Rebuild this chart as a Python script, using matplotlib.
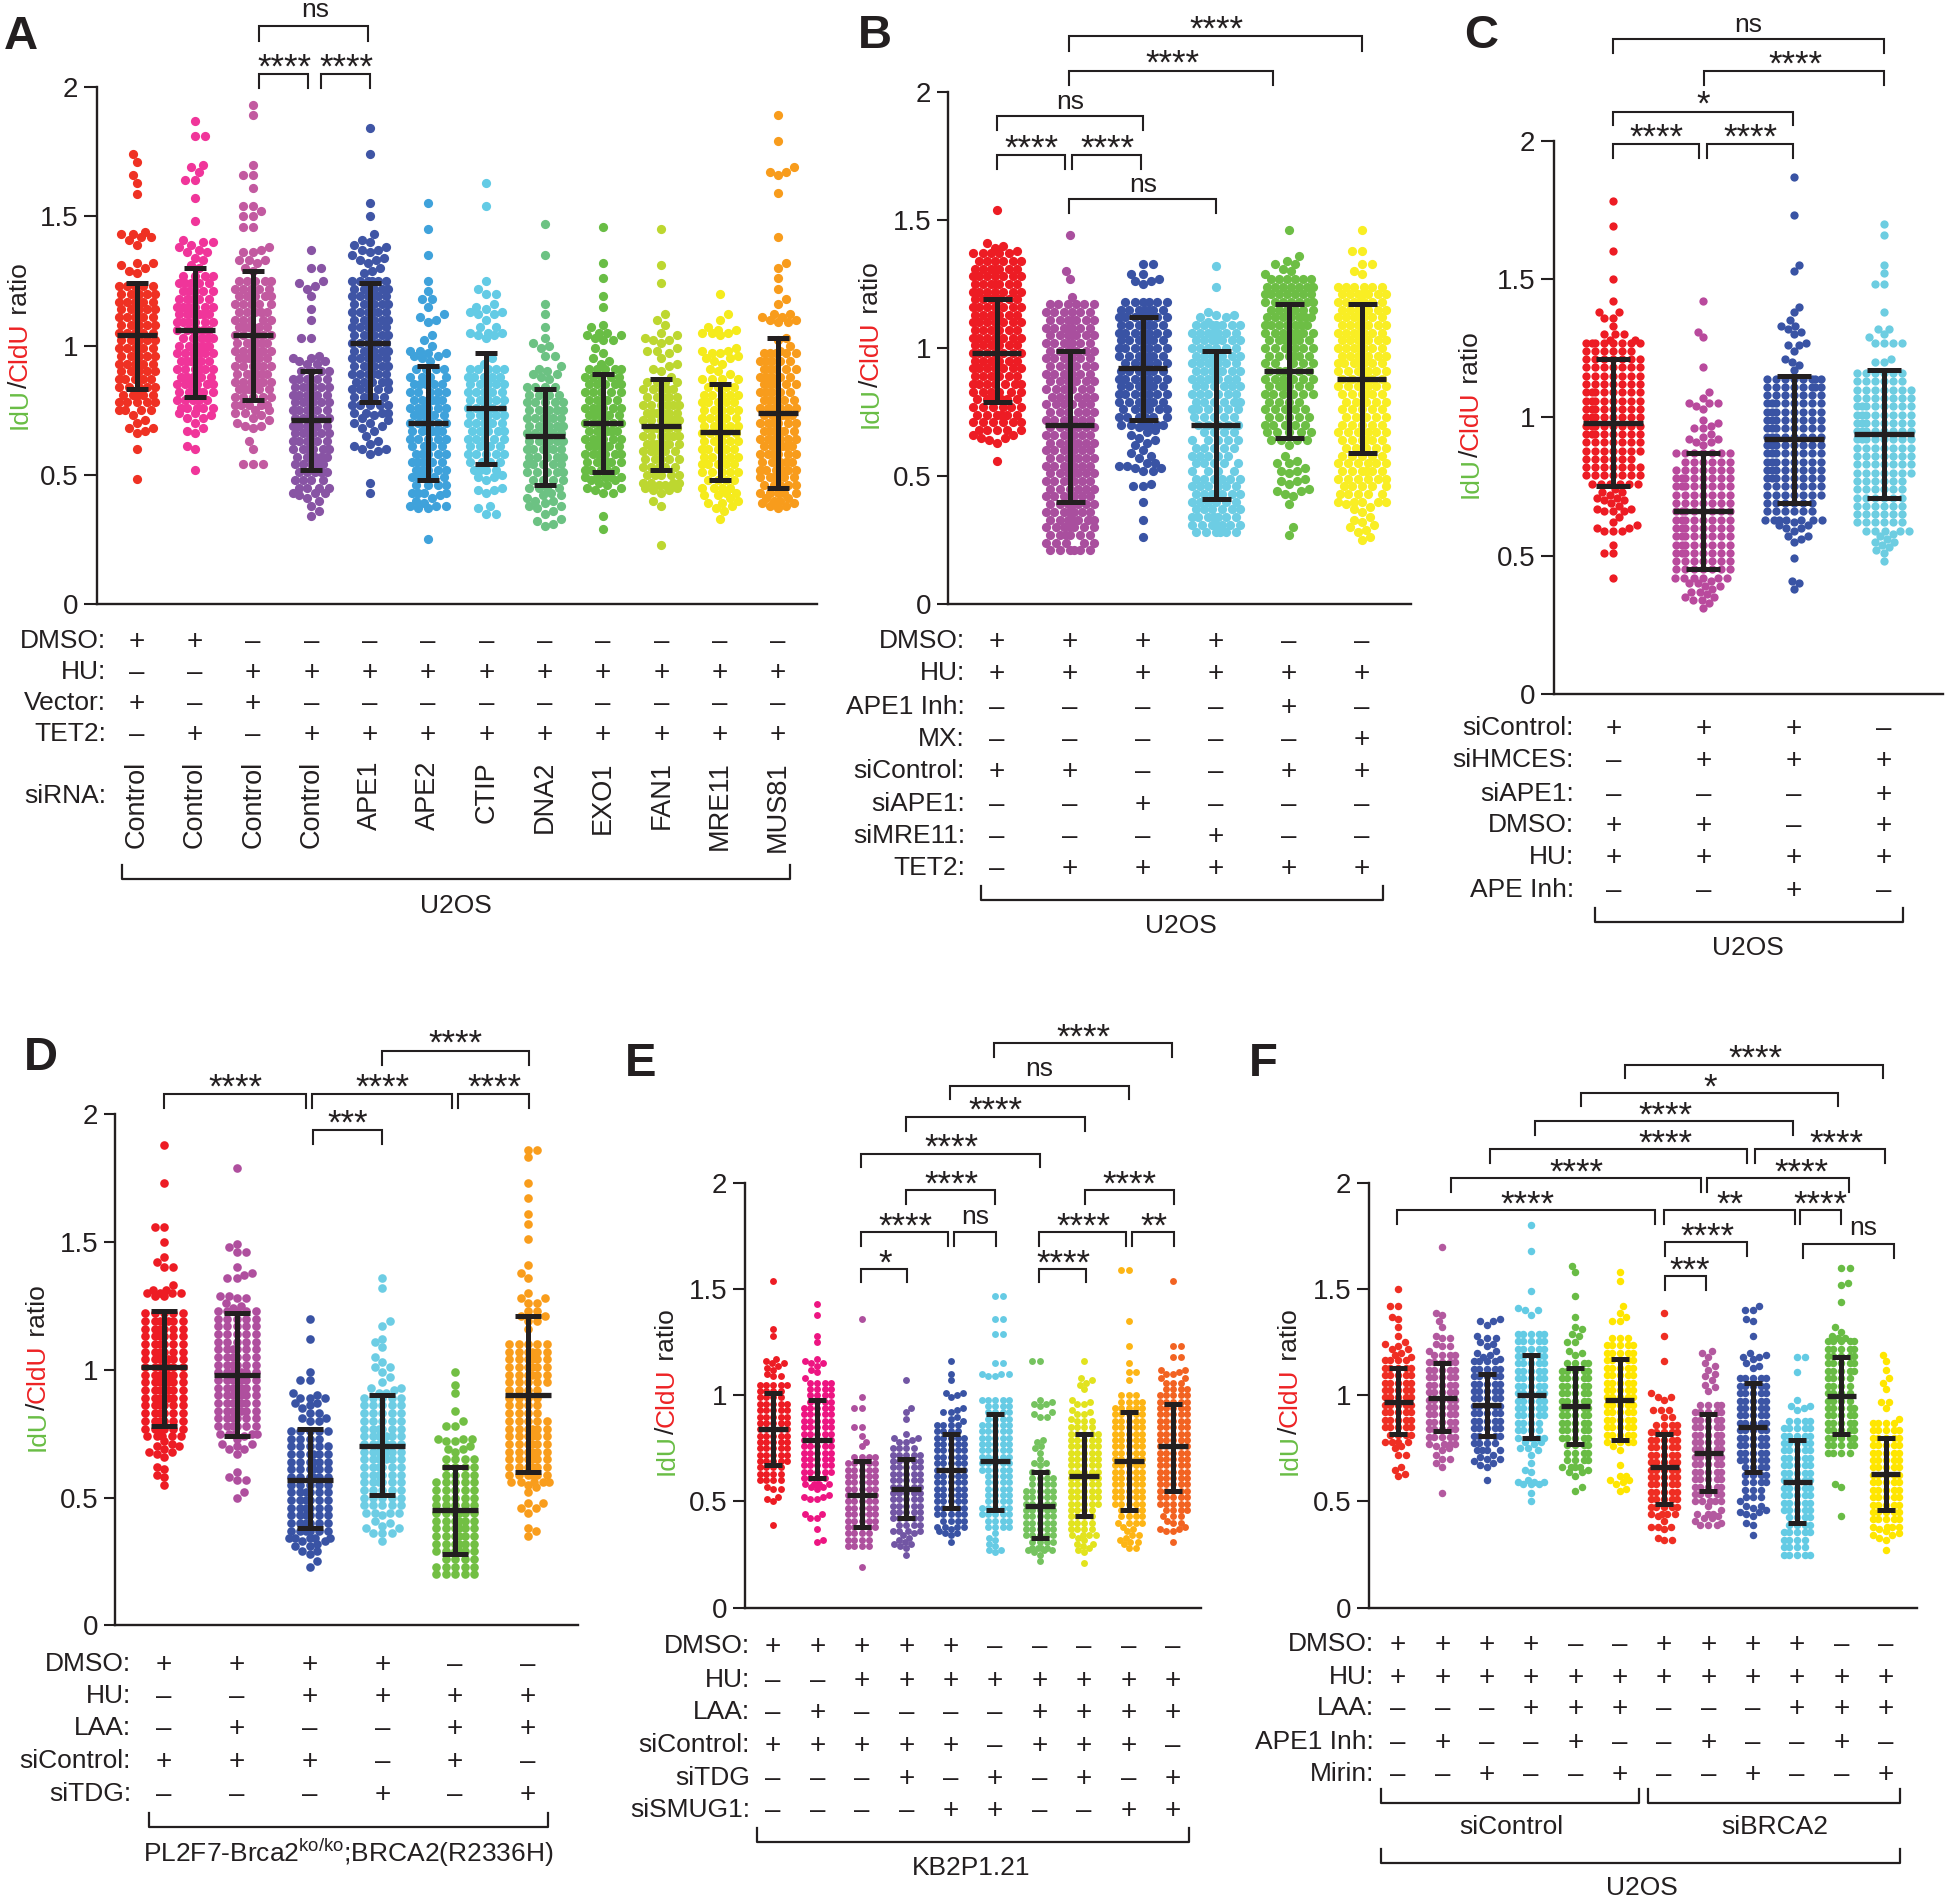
import matplotlib
matplotlib.use('Agg')
import matplotlib.pyplot as plt
import numpy as np

plt.rcParams['font.family'] = ['Liberation Sans', 'DejaVu Sans']
plt.rcParams['mathtext.fontset'] = 'custom'
plt.rcParams['mathtext.rm'] = 'Liberation Sans'
plt.rcParams['mathtext.default'] = 'regular'

DARK = '#231F20'

# --- Panel A ---
A_colors = ['#EF3123', '#F0359A', '#C25AA0', '#8854A4', '#3F55A5', '#3FA2DB',
            '#63CBE5', '#6CC283', '#69BD45', '#BDD730', '#F5EB1C', '#F89C1C']
A_mean = [1.04, 1.06, 1.04, 0.71, 1.01, 0.70, 0.76, 0.65, 0.70, 0.69, 0.665, 0.74]
A_high = [1.24, 1.30, 1.29, 0.90, 1.24, 0.92, 0.97, 0.83, 0.89, 0.87, 0.85, 1.03]
A_low = [0.83, 0.80, 0.79, 0.52, 0.78, 0.48, 0.54, 0.46, 0.51, 0.52, 0.48, 0.45]
A_step = 0.03
A_start = [.75, .76, .77, .45, .74, .43, .52, .45, .49, .47, .45, .43]
A_rows = [
    [4,5,5,5,6,6,6,6,6,6,6,6,6,6,6,6,5],
    [5,5,6,6,6,6,6,6,5,5,6,6,6,6,5,5,5,4],
    [5,5,6,6,6,6,6,6,6,6,6,5,5,5,6,5,5],
    [4,4,5,5,6,6,6,6,6,6,6,6,6,6,5,4],
    [4,5,5,5,5,6,6,6,6,6,6,6,6,6,6,6,6,6],
    [4,4,5,5,5,5,4,5,6,6,6,6,6,5,5,4,4],
    [4,4,5,5,5,6,6,6,6,6,6,5,5,5],
    [4,4,5,5,5,6,6,6,6,6,5,5,4,4],
    [5,5,6,6,6,6,6,6,6,6,5,5,5,5,5],
    [4,5,5,5,6,6,6,6,6,6,6,5,5,4],
    [4,4,5,5,5,6,6,6,6,6,5,5,5,4,4],
    [5,5,6,6,6,6,6,6,6,6,6,6,5,5,5,5,5,5,5],
]
A_sparse = [
    [1.74,1.71,1.66,1.63,1.585,1.44,1.43,1.43,1.42,1.41,1.42,1.39,1.32,1.32,1.31,1.28,1.29,1.30,.60,.485,.66,.67,.68,.68,.70,.71,.73],
    [1.87,1.81,1.81,1.70,1.69,1.67,1.64,1.64,1.57,1.48,1.41,1.40,1.40,1.39,1.38,1.37,1.36,1.36,1.34,1.33,1.30,1.31,.52,.60,.61,.66,.67,.68,.70,.72,.72,.73,.74,.74],
    [1.93,1.89,1.70,1.66,1.66,1.61,1.54,1.54,1.52,1.50,1.50,1.46,1.46,1.38,1.37,1.36,1.36,1.33,1.33,1.33,1.32,1.30,1.29,.54,.54,.54,.60,.63,.68,.69,.69,.70,.71,.72,.73,.74,.74,.75,.75],
    [1.37,1.30,1.30,1.25,1.24,1.23,1.22,1.19,1.14,1.10,1.03,1.03,.95,.95,.94,.94,.96,.93,.93,.34,.36,.38,.40,.41,.42,.43,.43,.43],
    [1.84,1.74,1.55,1.50,1.43,1.41,1.40,1.39,1.38,1.37,1.37,1.36,1.35,1.34,1.33,1.33,1.32,1.30,1.29,1.28,.43,.47,.58,.59,.60,.60,.61,.62,.63,.65,.67,.68,.69,.70,.70,.71,.72,.73],
    [1.55,1.45,1.35,1.25,1.21,1.18,1.18,1.15,1.12,1.11,1.10,1.09,1.04,1.02,1.00,.98,.98,.97,.97,.96,.96,.95,.94,.25,.37,.37,.38,.38,.38,.39,.40,.41,.42],
    [1.63,1.54,1.25,1.22,1.20,1.20,1.16,1.15,1.14,1.13,1.13,1.12,1.12,1.10,1.05,1.05,1.05,1.04,1.04,1.03,1.07,1.07,.95,.93,.35,.35,.37,.38,.43,.44,.44,.45,.48,.49,.49,.50],
    [1.47,1.35,1.16,1.12,1.07,1.03,1.01,1.00,.99,.96,.96,.92,.91,.90,.89,.89,.88,.87,.30,.31,.32,.33,.35,.36,.37,.38,.38,.39,.40,.40,.41,.42,.42,.43],
    [1.46,1.32,1.26,1.19,1.15,1.08,1.07,1.05,1.05,1.04,1.04,1.03,1.02,1.02,.99,.97,.95,.94,.93,.29,.34,.43,.43,.44,.45,.45,.46,.47,.48,.48],
    [1.45,1.31,1.24,1.12,1.10,1.08,1.05,1.04,1.03,1.02,1.02,1.01,.99,.98,.98,.97,.95,.93,.92,.91,.90,.88,.23,.38,.40,.43,.44,.44,.45,.45,.46,.46],
    [1.20,1.12,1.10,1.07,1.06,1.06,1.05,1.05,1.05,1.04,.99,.98,.98,.97,.97,.96,.95,.95,.94,.93,.91,.90,.89,.33,.36,.37,.38,.39,.39,.40,.41,.42,.42,.43,.43],
    [1.89,1.79,1.69,1.67,1.66,1.67,1.59,1.42,1.32,1.30,1.26,1.22,1.18,1.16,1.12,1.12,1.11,1.11,1.10,1.10,1.09,1.09,1.03,1.02,1.00,.98,.37,.38,.38,.39,.39,.40,.40,.41,.41],
]
A_labels = ['DMSO:', 'HU:', 'Vector:', 'TET2:']
A_marks = ['++----------', '--++++++++++', '+-+---------', '-+-+++++++++']
A_sirna = ['Control', 'Control', 'Control', 'Control', 'APE1', 'APE2', 'CTIP', 'DNA2', 'EXO1', 'FAN1', 'MRE11', 'MUS81']

# --- Panel B ---
B_colors = ['#ED1C24', '#A94F9E', '#3953A4', '#6DCDE4', '#6DBE45', '#F9EE24']
B_mean = [.98, .70, .92, .70, .91, .88]
B_high = [1.19, .99, 1.12, .99, 1.17, 1.17]
B_low = [.79, .40, .72, .41, .65, .59]
B_step = 0.03
B_start = [.68, .21, .70, .28, .64, .40]
B_rows = [
    [5,6,6,6,7,6,7,7,7,7,7,7,7,7,7,7,7,7,7,7,7,7,6,5],
    [6,5,6,7,7,7,7,6,6,7,7,7,7,7,7,7,7,7,6,6,6,7,7,7,7,7,7,7,7,7,7,6,6],
    [5,6,6,7,7,7,7,7,6,7,7,7,7,7,7,7,6],
    [6,7,7,6,6,7,6,6,4,5,5,5,5,4,5,5,6,6,6,6,7,7,7,6,6,7,7,7],
    [4,5,5,5,5,4,6,6,6,6,5,6,6,7,7,7,7,6,7,7,7,6],
    [5,5,5,6,6,6,5,5,6,6,5,5,5,5,6,6,6,7,7,7,7,7,7,7,7,7,7,7,6],
]
B_sparse = [
    [1.54,.56,1.41,1.40,1.39,1.38,.63,.64,.65,.66,.65,.66],
    [1.44,1.30,1.27,1.20],
    [1.33,1.33,1.29,1.29,1.27,1.26,1.26,1.25,.26,.33,.40,.46,.46,.47,.52,.52,.53,.53,.54,.54,.55,.55,.57,.58,.59,.60,.62,.63,.64,.65,.66,.67,.68,.69,.70],
    [1.32,1.24,1.14,1.13,1.12,1.13,1.12,1.10],
    [1.46,1.36,1.34,1.33,1.33,1.31,1.30,1.29,.27,.30,.39,.42,.43,.44,.44,.45,.47,.48,.48,.49,.51,.52,.52,.53,.55,.55,.56,.58,.62],
    [1.46,1.38,1.38,1.33,1.33,1.30,1.29,.25,.26,.28,.29,.30,.31,.32,.33,.34,.36,.37,.38,.39],
]
B_labels = ['DMSO:', 'HU:', 'APE1 Inh:', 'MX:', 'siControl:', 'siAPE1:', 'siMRE11:', 'TET2:']
B_marks = ['++++--', '++++++', '----+-', '-----+', '++--++', '--+---', '---+--', '-+++++']

# --- Panel C ---
C_colors = ['#ED1C24', '#B94A9D', '#3953A4', '#6DCDE1']
C_mean = [.98, .66, .92, .94]
C_high = [1.21, .87, 1.15, 1.17]
C_low = [.75, .45, .69, .71]
C_step = 0.03
C_start = [.76, .42, .63, .59]
C_rows = [
    [6,7,7,6,7,7,8,8,8,8,8,8,7,7,7,7,6,8],
    [6,7,7,8,8,8,8,8,8,7,7,8,8,7,6,7],
    [7,6,6,7,7,8,8,8,8,8,8,8,8,8,8,7,8,8],
    [5,6,6,6,6,6,6,7,7,7,7,8,8,8,8,8,7,7,6,6],
]
C_sparse = [
    [1.78,1.69,1.60,1.50,1.42,1.38,1.38,1.36,1.36,1.33,1.30,1.30,1.30,1.28,1.28,.42,.51,.51,.54,.59,.59,.59,.60,.60,.61,.62,.64,.66,.66,.66,.67,.67,.68,.69,.70,.70,.71,.71,.72,.73,.73,.74],
    [1.42,1.31,1.29,1.18,1.09,1.07,1.05,1.05,1.04,1.03,1.05,.99,.98,.97,.96,.96,.94,.93,.92,.92,.91,.91,.90,.31,.33,.34,.34,.35,.35,.36,.37,.37,.38,.39,.39,.40,.40,.41],
    [1.87,1.73,1.55,1.53,1.40,1.38,1.35,1.33,1.33,1.32,1.31,1.30,1.27,1.26,1.26,1.24,1.21,1.20,1.19,1.17,.38,.41,.40,.49,.55,.56,.57,.57,.59,.60,.60,.61,.61,.62],
    [1.70,1.66,1.55,1.52,1.48,1.48,1.38,1.32,1.32,1.30,1.29,1.27,1.27,1.27,1.27,1.21,1.20,1.20,.48,.51,.52,.53,.54,.55,.55,.56,.57,.58],
]
C_labels = ['siControl:', 'siHMCES:', 'siAPE1:', 'DMSO:', 'HU:', 'APE Inh:']
C_marks = ['+++-', '-+++', '---+', '++-+', '++++', '--+-']

# --- Panel D ---
D_colors = ['#ED1C24', '#AF4F9E', '#3953A4', '#6DCDE4', '#72BF44', '#F99D1C']
D_mean = [1.01, .98, .57, .70, .45, .90]
D_high = [1.23, 1.22, .77, .90, .62, 1.21]
D_low = [.78, .74, .38, .51, .28, .60]
D_step = 0.03
D_start = [.74, .75, .34, .44, .20, .56]
D_rows = [
    [5,6,6,6,6,7,7,7,7,7,7,6,6,6,6,7,5],
    [5,6,6,7,7,7,7,7,7,6,6,6,5,5,5,5,5],
    [5,6,6,6,6,6,6,5,6,6,6,6,5,4,5],
    [4,5,5,5,6,6,6,7,7,7,7,6,5,5,5,5],
    [5,5,4,6,6,6,6,6,6,5,5,5,5,4,4,4],
    [5,6,6,6,6,6,6,6,5,4,4,4,4,5,6,6,6,6,5],
]
D_sparse = [
    [1.88,1.73,1.56,1.56,1.50,1.44,1.42,1.40,1.40,1.33,1.31,1.31,1.30,1.30,1.30,1.29,1.29,1.30,.55,.58,.59,.61,.62,.66,.67,.68,.68,.69,.70,.70,.71,.72],
    [1.79,1.49,1.48,1.46,1.46,1.40,1.38,1.37,1.36,1.36,1.29,1.29,1.28,1.28,1.26,1.25,1.24,.50,.52,.57,.57,.58,.60,.67,.69,.69,.70,.71,.71,.73,.74],
    [1.20,1.12,.99,.96,.96,.91,.90,.89,.89,.89,.87,.87,.86,.85,.83,.83,.81,.81,.80,.80,.23,.25,.28,.29,.29,.31,.31,.32,.33,.33],
    [1.36,1.32,1.19,1.17,1.12,1.11,1.09,1.05,1.03,1.01,1.01,.99,.97,.95,.93,.93,.92,.91,.91,.33,.36,.36,.36,.38,.38,.39,.40,.41,.43],
    [.99,.94,.91,.84,.80,.78,.78,.73,.73,.73,.72,.72,.70,.69,.69,.68],
    [1.86,1.86,1.83,1.73,1.67,1.61,1.57,1.51,1.41,1.38,1.36,1.30,1.28,1.28,1.26,1.26,1.23,1.23,1.21,1.21,1.19,1.19,1.16,.35,.37,.38,.44,.46,.46,.48,.48,.52,.54,.55],
]
D_labels = ['DMSO:', 'HU:', 'LAA:', 'siControl:', 'siTDG:']
D_marks = ['++++--', '--++++', '-+--++', '+++-+-', '---+-+']

# --- Panel E ---
E_colors = ['#ED1C24', '#ED1582', '#AE509E', '#7256A4', '#3953A4', '#66CBE4', '#75C35F', '#E2E31E', '#FDB515', '#F26322']
E_mean = [.84, .79, .53, .56, .65, .69, .48, .62, .69, .76]
E_high = [1.01, .98, .69, .70, .82, .91, .64, .82, .92, .96]
E_low = [.67, .61, .38, .42, .47, .46, .33, .43, .46, .55]
E_step = 0.03
E_start = [.60, .58, .29, .36, .38, .38, .28, .34, .40, .46]
E_rows = [
    [4,4,4,5,5,5,5,5,5,5,5,5,5,4,4,4],
    [4,4,5,5,5,5,5,5,5,5,5,5,5,4,4,4,4],
    [4,4,4,5,5,5,5,5,5,5,5,5,5,5,4],
    [4,4,5,5,5,5,5,5,5,5,5,5,5,4],
    [4,4,5,5,5,5,5,5,5,5,5,5,5,5,5,4,4],
    [4,4,5,5,4,4,4,4,4,5,5,5,5,5,5,5,5,4,4,4,5],
    [4,4,5,5,5,5,5,5,5,5,4,4,3],
    [4,4,4,4,4,5,5,5,5,5,5,5,5,5,5,5,5,4,3],
    [4,4,4,5,5,5,5,5,5,5,5,5,5,5,5,5,5,5,5,4,3],
    [4,5,5,5,5,5,5,5,5,5,5,5,5,5,5,5,5,5,5,4,3],
]
E_sparse = [
    [1.54,1.31,1.28,1.17,1.16,1.15,1.15,1.14,1.13,1.12,1.10,1.09,1.09,1.05,.39,.50,.51,.52,.56,.56,.57],
    [1.43,1.38,1.28,1.25,1.17,1.16,1.15,1.15,1.14,1.12,1.11,1.08,.31,.32,.37,.42,.42,.44,.44,.51,.51,.52,.52,.53,.56,.57,.57],
    [1.36,.99,.94,.94,.85,.85,.81,.78,.76,.19],
    [1.07,.94,.92,.89,.82,.80,.80,.79,.78,.78,.25,.28,.29,.30,.30,.31,.32,.33,.34,.35],
    [1.16,1.10,1.07,1.01,1.01,1.00,.99,.94,.93,.92,.92,.90,.89,.88,.31,.34,.35,.35,.36,.37],
    [1.47,1.47,1.36,1.36,1.29,1.29,1.15,1.15,1.10,1.10,1.10,1.09,1.09,.26,.27,.27,.29,.30,.32,.33,.35],
    [1.16,1.16,.98,.97,.96,.96,.95,.92,.91,.90,.90,.79,.78,.76,.75,.73,.70,.68,.68,.67,.22,.25,.26,.27,.27,.27],
    [1.16,1.08,1.07,1.06,1.05,1.03,.98,.97,.96,.96,.93,.92,.91,.91,.89,.21,.26,.27,.28,.29,.30,.30,.32,.33],
    [1.59,1.59,1.35,1.23,1.15,1.11,1.11,1.07,.28,.28,.30,.31,.31,.32,.33,.34,.34,.36,.37,.38],
    [1.54,1.23,1.23,1.18,1.18,1.12,1.12,1.11,1.10,1.10,1.08,1.08,.31,.36,.36,.37,.37,.38,.40,.40,.41,.43,.43,.43],
]
E_labels = ['DMSO:', 'HU:', 'LAA:', 'siControl:', 'siTDG', 'siSMUG1:']
E_marks = ['+++++-----', '--++++++++', '-+----++++', '+++++-+++-', '---+-+-+-+', '----++--++']

# --- Panel F ---
F_colors = ['#EF2E23', '#B3599F', '#3C55A5', '#63CBE4', '#69BC45', '#FFE600'] * 2
F_mean = [.97, .985, .955, 1.0, .95, .98, .66, .73, .85, .59, .995, .63]
F_high = [1.13, 1.15, 1.10, 1.19, 1.13, 1.17, .82, .91, 1.06, .79, 1.18, .80]
F_low = [.82, .83, .81, .80, .77, .79, .49, .55, .64, .40, .82, .46]
F_step = 0.035
F_start = [.78, .77, .74, .80, .66, .78, .44, .50, .52, .25, .73, .38]
F_rows = [
    [4,4,5,5,5,5,5,5,5,5,5,4],
    [4,5,5,5,5,5,5,5,5,5,5,5,4],
    [4,4,5,5,5,5,5,5,5,5,5,5,4],
    [4,4,4,5,5,5,5,5,5,5,5,5,5,5,5],
    [4,4,4,4,5,5,5,5,5,5,5,5,5,5,4],
    [4,5,5,5,5,5,5,5,5,5,5,5,5,5,3],
    [4,5,5,5,5,5,5,5,5,5,5,5,4],
    [5,5,5,5,5,5,5,5,5,5,5,5,5,4],
    [3,3,4,4,4,5,5,5,5,5,5,5,5,5,5,5,5],
    [5,4,4,5,4,4,5,5,5,5,5,5,5,5,5,5,5,5,4],
    [4,5,5,5,5,5,5,4,4,4,4,5,5,5,5,5],
    [4,5,5,5,5,5,5,5,5,5,5,5,5,5,4],
]
F_sparse = [
    [1.50,1.42,1.42,1.37,1.36,1.32,1.28,1.25,1.24,1.23,1.22,1.22,1.20,1.19,1.18,.62,.63,.65,.66,.72,.72,.75,.76],
    [1.70,1.39,1.38,1.35,1.32,1.28,1.27,1.27,1.24,1.23,1.23,1.21,.54,.66,.68,.70,.70,.72,.74,.75,.76],
    [1.36,1.35,1.35,1.33,1.28,1.27,1.27,1.25,1.24,1.23,1.21,1.20,1.19,1.18,1.17,.60,.66,.67,.68,.69,.70,.70,.71,.72],
    [1.80,1.68,1.49,1.41,1.40,1.40,1.38,.50,.54,.58,.58,.58,.59,.59,.59,.60,.64,.65,.68,.72,.74,.75,.75,.77,.78,.78],
    [1.61,1.58,1.47,1.37,1.32,1.31,1.29,1.28,1.25,1.25,1.21,1.20,1.19,.55,.57,.62,.64,.64,.65],
    [1.58,1.54,1.42,1.39,1.37,1.35,1.35,.55,.56,.58,.59,.60,.60,.62,.62,.67,.74,.76],
    [1.39,1.28,1.16,1.01,.99,.99,.98,.93,.93,.93,.90,.90,.32,.32,.33,.37,.38,.38,.38,.41,.43],
    [1.21,1.20,1.18,1.15,1.14,1.12,1.10,1.09,1.07,1.05,1.04,1.02,.39,.39,.39,.40,.41,.42,.42,.43,.44,.44,.44,.46,.48],
    [1.42,1.40,1.40,1.35,1.36,1.28,1.20,1.19,1.18,1.18,1.17,1.15,1.14,1.13,.34,.39,.40,.43,.44,.45,.45,.46,.47,.48,.48,.50],
    [1.18,1.18,1.11,.98,.95,.95,.94,.93],
    [1.60,1.60,1.53,1.52,1.44,1.32,1.30,1.28,1.27,1.27,.57,.58,.43],
    [1.19,1.16,1.12,1.08,1.06,1.03,.97,.97,.94,.89,.27,.32,.33,.34,.34,.35,.36,.37],
]
F_labels = ['DMSO:', 'HU:', 'LAA:', 'APE1 Inh:', 'Mirin:']
F_marks = ['++++--++++--', '++++++++++++', '---+++---+++', '-+--+--+--+-', '--+--+--+--+']

fig = plt.figure(figsize=(19.5, 19.04), dpi=100)
W, H = 1950.0, 1904.0

# overlay in pixel coords for brackets and the table text
ov = fig.add_axes([0, 0, 1, 1], zorder=5)
ov.set_xlim(0, W)
ov.set_ylim(H, 0)
ov.axis('off')
ov.patch.set_alpha(0)


def swarm(vals, dot, per_unit, half):
    # simple beeswarm: returns x offsets in pixels
    vals = np.sort(vals)
    ys = vals * per_unit
    cand = np.arange(0, half + 0.01, dot / 4)
    xs = []
    for k, y in enumerate(ys):
        sign = 1 if k % 2 else -1
        order = np.ravel(np.column_stack([sign * cand, -sign * cand]))
        if len(xs) == 0:
            xs.append(0.0)
            continue
        px = np.array(xs)
        py = ys[:len(xs)]
        near = np.abs(py - y) < dot * 1.5
        px, py = px[near], py[near]
        best, best_d = 0.0, -1
        for c in order:
            d = np.min(np.hypot(px - c, py - y)) if len(px) else 99
            if d >= dot * 1.02:
                best = c
                break
            if d > best_d:
                best, best_d = c, d
        xs.append(best)
    return vals, np.array(xs)


def panel(x_px, y2, y0, right, spine, left_tick, colors, mean, high, low, start, rows, step, sparse,
          dot, half, mean_w, cap_w):
    ax = fig.add_axes([spine / W, 1 - y0 / H, (right - spine) / W, (y0 - y2) / H])
    ax.set_xlim(spine, right)
    ax.set_ylim(0, 2)
    per_unit = (y0 - y2) / 2
    for i, x0 in enumerate(x_px):
        vals = list(sparse[i])
        for r, n in enumerate(rows[i]):
            vals += [start[i] + r * step] * n
        v, off = swarm(np.array(vals), dot, per_unit, half)
        # drawn a bit larger than the layout spacing so the dense part closes up
        ax.scatter(x0 + off, v, s=(dot * 1.15 * 0.72) ** 2, color=colors[i], linewidths=0, zorder=2, clip_on=False)
        ax.errorbar(x0, mean[i], yerr=[[mean[i] - low[i]], [high[i] - mean[i]]], color=DARK, elinewidth=3.6,
                    capsize=cap_w * 0.72, capthick=3.6, zorder=3)
        ax.hlines(mean[i], x0 - mean_w, x0 + mean_w, color=DARK, linewidth=3.8, zorder=3)
    for s in ['top', 'right']:
        ax.spines[s].set_visible(False)
    for s in ['left', 'bottom']:
        ax.spines[s].set_linewidth(1.7)
        ax.spines[s].set_color(DARK)
    ax.set_xticks([])
    ax.set_yticks([0, 0.5, 1, 1.5, 2])
    ax.set_yticklabels(['0', '0.5', '1', '1.5', '2'], fontsize=20, color=DARK)
    ax.tick_params(axis='y', length=(spine - left_tick) * 0.72, width=1.5, color=DARK, pad=4)
    return ax


def ylabel(x, y_bottom):
    renderer = fig.canvas.get_renderer()
    y = y_bottom
    for s, c in [('IdU', '#69BD45'), ('/', DARK), ('CldU', '#ED2224'), (' ratio', DARK)]:
        t = ov.text(x, y, s.replace(' ', '\u00a0'), color=c, fontsize=19, rotation=90, ha='center', va='bottom',
                    rotation_mode='default')
        y -= t.get_window_extent(renderer).height


def table(labels, marks, x_px, rows_y, label_x):
    for lab, row, y in zip(labels, marks, rows_y):
        ov.text(label_x, y + 8, lab, ha='right', va='baseline', fontsize=19, color=DARK)
        for m, x in zip(row, x_px):
            ov.text(x, y + 9, '+' if m == '+' else '\u2013', ha='center', va='baseline', fontsize=20, color=DARK)


def bracket(x1, x2, top, bot, label=None, lx=None, ly=None, right_bot=None):
    rb = bot if right_bot is None else right_bot
    ov.plot([x1, x1, x2, x2], [bot, top, top, rb], color=DARK, lw=1.5, solid_joinstyle='miter', clip_on=False)
    if label is None:
        return
    if label == 'ns':
        ov.text(lx, ly + 7, label, ha='center', va='baseline', fontsize=19, color=DARK)
    else:
        ov.text(lx, ly + 17, label, ha='center', va='baseline', fontsize=25, color=DARK)


def under(x1, x2, top, bot, label, lx, ly, **kw):
    ov.plot([x1, x1, x2, x2], [top, bot, bot, top], color=DARK, lw=1.6, clip_on=False)
    ov.text(lx, ly, label, ha='center', va='center', fontsize=19, color=DARK, **kw)


def letter(s, x, y):
    ov.text(x, y, s, ha='center', va='center', fontsize=34, fontweight='bold', color=DARK)


S4 = '****'

# --- A ---
xA = np.linspace(136.5, 778, 12)
panel(xA, 87, 604, 817, 97, 84, A_colors, A_mean, A_high, A_low, A_start, A_rows, A_step, A_sparse, 8, 19, 20, 11)
table(A_labels, A_marks, xA, [640, 671, 702, 733], 106)
ov.text(106, 796, 'siRNA:', ha='right', va='center', fontsize=19, color=DARK)
for x, s in zip(xA, A_sirna):
    ov.text(x, 761, s, rotation=90, ha='center', va='top', fontsize=19.5, color=DARK)
under(122, 790, 865, 879, 'U2OS', 456, 906)
ylabel(20, 429)
letter('A', 21, 37)
bracket(259, 368, 26, 41, 'ns', 315, 10)
bracket(259, 308, 74, 88, S4, 284, 61)
bracket(321, 369.5, 74, 88, S4, 346, 61)

# --- B ---
xB = np.linspace(996.6, 1361.7, 6)
panel(xB, 92, 604, 1410.6, 948, 937, B_colors, B_mean, B_high, B_low, B_start, B_rows, B_step, B_sparse, 8, 24, 24.5, 14.5)
table(B_labels, B_marks, xB, [640, 672, 706, 738, 770, 803, 835, 867], 965)
under(981, 1383, 886, 900, 'U2OS', 1181, 926)
ylabel(871, 428)
letter('B', 875, 36)
bracket(1069, 1361.7, 36, 51, S4, 1216, 23)
bracket(1069, 1272.5, 71, 85, S4, 1172, 57)
bracket(996.6, 1143, 116, 130, 'ns', 1070, 102)
bracket(996.6, 1064.7, 155, 169, S4, 1031, 142)
bracket(1072, 1141, 155, 169, S4, 1107, 142)
bracket(1069, 1215.5, 199, 213, 'ns', 1143, 185)

# --- C ---
xC = np.linspace(1613.3, 1883.7, 4)
panel(xC, 140.6, 694, 1943, 1554, 1541, C_colors, C_mean, C_high, C_low, C_start, C_rows, C_step, C_sparse, 7.2, 29, 30, 16.7)
table(C_labels, C_marks, xC, [727, 759, 793, 824, 856, 889], 1574)
under(1595, 1903, 908, 922, 'U2OS', 1748, 948)
ylabel(1471, 498)
letter('C', 1481, 36)
bracket(1613, 1884, 39, 53, 'ns', 1748.7, 25)
bracket(1703.7, 1884, 71, 85, S4, 1795.7, 58)
bracket(1613, 1792.7, 112, 125, '*', 1703, 98)
bracket(1613, 1699, 144, 158, S4, 1656.7, 131)
bracket(1706.7, 1792.7, 144, 158, S4, 1750, 131)

# --- D ---
xD = np.linspace(164, 528, 6)
panel(xD, 1114, 1625.4, 578, 115, 104, D_colors, D_mean, D_high, D_low, D_start, D_rows, D_step, D_sparse, 7.5, 22, 23, 13)
table(D_labels, D_marks, xD, [1663, 1695, 1727, 1760, 1793], 131)
under(149, 548, 1813, 1827, 'PL2F7-Brca2$^{ko/ko}$;BRCA2(R2336H)', 348, 1853)
ylabel(38, 1451)
letter('D', 41, 1058)
bracket(382, 528.5, 1051, 1065, S4, 455, 1037)
bracket(164, 306, 1094, 1108, S4, 235, 1081)
bracket(312, 451.6, 1094, 1108, S4, 382, 1081)
bracket(458, 528.5, 1094, 1108, S4, 494, 1081)
bracket(312.7, 381.5, 1130, 1144, '***', 347.5, 1117)

# --- E ---
xE = np.linspace(773, 1173, 10)
panel(xE, 1183, 1607.6, 1201, 745, 733, E_colors, E_mean, E_high, E_low, E_start, E_rows, E_step, E_sparse, 6, 14.5, 15, 9.4)
table(E_labels, E_marks, xE, [1645, 1679, 1711, 1744, 1777, 1809], 750)
under(757, 1189, 1828, 1842, 'KB2P1.21', 971, 1868)
ylabel(667, 1475)
letter('E', 641, 1064)
bracket(993.6, 1172, 1043, 1057, S4, 1083, 1031)
bracket(949.6, 1128.6, 1086, 1099, 'ns', 1039, 1069)
bracket(905.6, 1084.6, 1117, 1131, S4, 995.5, 1104)
bracket(860.8, 1040, 1154, 1167, S4, 951, 1141)
bracket(905.6, 995, 1190, 1204, S4, 951, 1178)
bracket(1084.6, 1173.8, 1190, 1204, S4, 1129, 1178)
bracket(860.8, 947.7, 1232, 1246, S4, 905, 1220)
bracket(954, 995.5, 1232, 1246, 'ns', 975, 1217)
bracket(1039, 1125.6, 1232, 1246, S4, 1083, 1220)
bracket(1132, 1173.8, 1232, 1246, '**', 1153.5, 1220)
bracket(860.8, 907, 1269, 1282, '*', 885, 1257)
bracket(1039, 1086, 1269, 1282, S4, 1063, 1257)

# --- F ---
xF = np.linspace(1398, 1885.8, 12)
panel(xF, 1183, 1607.6, 1917, 1369, 1357, F_colors, F_mean, F_high, F_low, F_start, F_rows, F_step, F_sparse, 6.5, 14, 14.5, 9)
table(F_labels, F_marks, xF, [1643, 1676, 1707, 1741, 1773], 1374)
under(1381, 1639, 1789, 1803, 'siControl', 1511, 1827)
under(1648, 1900, 1789, 1803, 'siBRCA2', 1775, 1827)
under(1381, 1900, 1849, 1863, 'U2OS', 1642, 1888)
ylabel(1290, 1475)
letter('F', 1263, 1064)
bracket(1625, 1882.7, 1065, 1078, S4, 1755, 1052)
bracket(1580.6, 1838, 1093, 1106, '*', 1710, 1081)
bracket(1535, 1793, 1121, 1135, S4, 1665, 1109)
bracket(1489.5, 1747, 1149, 1163, S4, 1665, 1137)
bracket(1755, 1885, 1149, 1163, S4, 1836.5, 1137)
bracket(1451, 1701, 1178, 1192, S4, 1576.5, 1166)
bracket(1707, 1849, 1178, 1192, S4, 1801.6, 1166)
bracket(1397, 1655, 1210, 1224, S4, 1527, 1198)
bracket(1664, 1795, 1210, 1224, '**', 1730, 1198)
bracket(1800, 1840.5, 1210, 1224, S4, 1820.6, 1198)
bracket(1802.5, 1894.4, 1244, 1258, 'ns', 1863.6, 1228)
bracket(1665, 1747, 1242, 1256, S4, 1707, 1230)
bracket(1665, 1705.6, 1276, 1290, '***', 1690, 1264)

fig.savefig('out.png', dpi=100)
